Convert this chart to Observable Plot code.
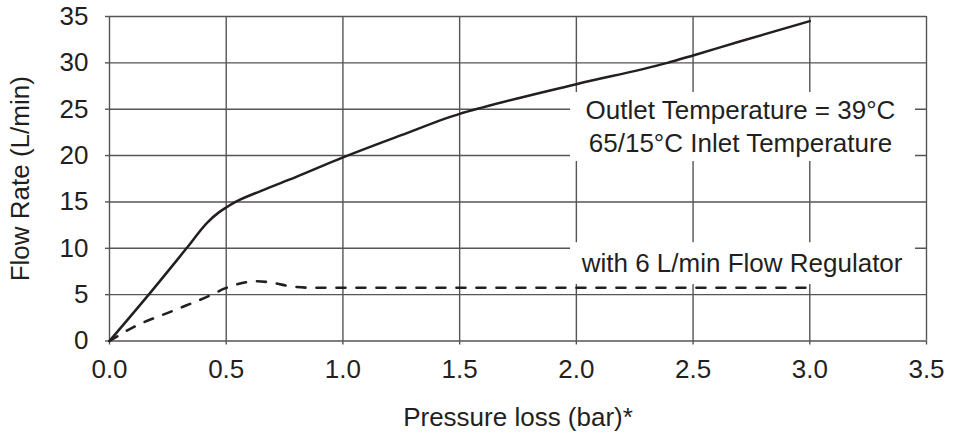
<!DOCTYPE html>
<html>
<head>
<meta charset="utf-8">
<script src="https://cdn.jsdelivr.net/npm/d3@7"></script>
<script src="https://cdn.jsdelivr.net/npm/@observablehq/plot@0.6"></script>
<style>
  html, body { margin: 0; padding: 0; background: #fff; }
  #chart { width: 955px; height: 436px; }
</style>
</head>
<body>
<div id="chart"></div>
<script>
// ---- data ----
const xTicks = [0, 0.5, 1.0, 1.5, 2.0, 2.5, 3.0, 3.5];
const yTicks = [0, 5, 10, 15, 20, 25, 30, 35];

// Without flow regulator (solid)
const solidX = [0, 0.168, 0.33, 0.42, 0.47, 0.5, 0.54, 0.65, 0.8, 1.0, 1.25, 1.5, 1.6, 2.0, 2.39, 2.5, 2.7, 3.0];
const solidY = [0, 5, 10, 12.8, 13.9, 14.4, 15, 16.2, 17.7, 19.8, 22.2, 24.5, 25.2, 27.7, 30, 30.8, 32.3, 34.5];

// With 6 L/min flow regulator (dashed)
const dashX = [0, 0.103, 0.276, 0.43, 0.497, 0.56, 0.633, 0.704, 0.776, 0.86, 1.0, 2.0, 3.0];
const dashY = [0, 1.5, 3.3, 4.9, 5.7, 6.2, 6.45, 6.25, 5.9, 5.75, 5.74, 5.74, 5.74];

const noteText = ["Outlet Temperature = 39°C", "65/15°C Inlet Temperature", "with 6 L/min Flow Regulator"];
const noteX = [2.703, 2.703, 2.71];
const noteY = [24.87, 21.27, 8.37];

// white label backgrounds (data coordinates)
const boxX1 = [1.975, 1.975];
const boxX2 = [3.453, 3.453];
const boxY1 = [19.36, 6.1];
const boxY2 = [26.8, 10.6];

const xLabel = "Pressure loss (bar)*";
const yLabel = "Flow Rate (L/min)";

// ---- build tables ----
const solid = solidX.map((x, i) => ({x, y: solidY[i]}));
const dashed = dashX.map((x, i) => ({x, y: dashY[i]}));
const notes = noteText.map((t, i) => ({t, x: noteX[i], y: noteY[i]}));
const boxes = boxX1.map((x1, i) => ({x1, x2: boxX2[i], y1: boxY1[i], y2: boxY2[i]}));

const ink = "#231f20";
const gridColor = "#555555";
const font = "'Liberation Sans', Arial, Helvetica, sans-serif";

const chart = Plot.plot({
  width: 955,
  height: 436,
  marginLeft: 109,
  marginRight: 29,
  marginTop: 16,
  marginBottom: 95.5,
  style: {fontFamily: font, fontSize: "26px", color: ink, background: "#fff", overflow: "visible"},
  x: {domain: [0, 3.5], label: null},
  y: {domain: [0, 35], label: null},
  marks: [
    Plot.gridX(xTicks, {stroke: gridColor, strokeOpacity: 1, strokeWidth: 1.4}),
    Plot.gridY(yTicks, {stroke: gridColor, strokeOpacity: 1, strokeWidth: 1.4}),
    Plot.axisX(xTicks, {tickSize: 4, tickPadding: 15, tickFormat: d3.format(".1f"), stroke: gridColor, strokeWidth: 1.4, fill: ink, fontSize: 26, label: null}),
    Plot.axisY(yTicks, {tickSize: 4, tickPadding: 17, tickFormat: d3.format("d"), stroke: gridColor, strokeWidth: 1.4, fill: ink, fontSize: 26, label: null}),
    Plot.rect(boxes, {x1: "x1", x2: "x2", y1: "y1", y2: "y2", fill: "#fff"}),
    Plot.line(solid, {x: "x", y: "y", stroke: ink, strokeWidth: 2.5, curve: "monotone-x"}),
    Plot.line(dashed, {x: "x", y: "y", stroke: ink, strokeWidth: 2.6, strokeDasharray: "9,11", curve: "monotone-x"}),
    Plot.text(notes, {x: "x", y: "y", text: "t", fill: ink, fontSize: 26, textAnchor: "middle", lineAnchor: "middle"}),
    Plot.text([xLabel], {frameAnchor: "bottom", dy: 77, fill: ink, fontSize: 26, textAnchor: "middle", lineAnchor: "middle"}),
    Plot.text([yLabel], {frameAnchor: "left", dx: -89, rotate: -90, fill: ink, fontSize: 26, textAnchor: "middle", lineAnchor: "middle"})
  ]
});
document.getElementById("chart").appendChild(chart);
</script>
</body>
</html>
